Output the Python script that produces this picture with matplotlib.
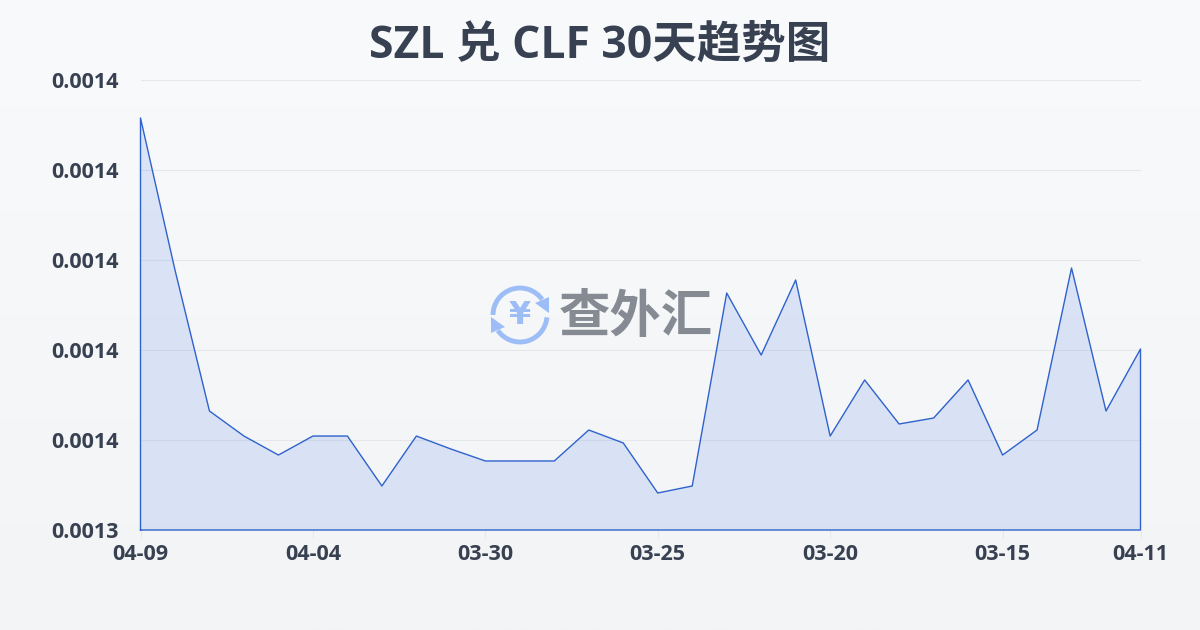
import numpy as np
import matplotlib
matplotlib.use("Agg")
import matplotlib.pyplot as plt
from matplotlib.patches import Arc, Polygon

plt.rcParams['font.family'] = ['Open Sans', 'Noto Sans CJK SC', 'DejaVu Sans']

# data
dates = ["04-09", "04-08", "04-07", "04-06", "04-05", "04-04", "04-03", "04-02", "04-01", "03-31",
         "03-30", "03-29", "03-28", "03-27", "03-26", "03-25", "03-24", "03-23", "03-22", "03-21",
         "03-20", "03-19", "03-18", "03-17", "03-16", "03-15", "03-14", "03-13", "03-12", "04-11"]
rates = [0.00139578, 0.00137889, 0.00136322, 0.00136044, 0.00135833, 0.00136044, 0.00136044, 0.00135489,
         0.00136044, 0.00135900, 0.00135767, 0.00135767, 0.00135767, 0.00136111, 0.00135967, 0.00135411,
         0.00135489, 0.00137633, 0.00136944, 0.00137778, 0.00136044, 0.00136667, 0.00136178, 0.00136244,
         0.00136667, 0.00135833, 0.00136111, 0.00137911, 0.00136322, 0.00137011]
xtick_pos = [0, 5, 10, 15, 20, 25, 29]
ytick_vals = [0.00135, 0.00136, 0.00137, 0.00138, 0.00139, 0.00140]
ytick_labels = ["0.0013", "0.0014", "0.0014", "0.0014", "0.0014", "0.0014"]

TEXT = "#374151"
LINE = "#2f62cc"

fig = plt.figure(figsize=(12, 6.3), dpi=100)

# background gradient
bg = fig.add_axes([0, 0, 1, 1], zorder=0)
bg.imshow(np.linspace(0, 1, 256).reshape(-1, 1), aspect="auto", extent=[0, 1200, 630, 0],
          cmap=matplotlib.colors.LinearSegmentedColormap.from_list("bg", ["#f9fafc", "#f3f4f6"]))
bg.axis("off")

ax = fig.add_axes([140.5 / 1200, 100 / 630, 1000 / 1200, 450 / 630], zorder=1)
ax.patch.set_alpha(0)
x = np.arange(len(rates))
ax.fill_between(x, rates, 0.00135, facecolor="#4a7fe8", alpha=0.16, linewidth=0, zorder=2)
ax.plot(np.r_[x[0], x, x[-1], x[0]], np.r_[0.00135, rates, 0.00135, 0.00135], color=LINE, lw=1.0,
        clip_on=False, zorder=3)

ax.set_xlim(0, len(rates) - 1)
ax.set_ylim(0.00135, 0.00140)
ax.set_xticks(xtick_pos)
ax.set_xticklabels([dates[i] for i in xtick_pos], fontsize=15.5, fontweight="bold", color=TEXT)
ax.tick_params(axis="x", length=6, width=0.8, color="#e5e7eb", pad=4)
ax.set_yticks(ytick_vals)
ax.set_yticklabels(ytick_labels, fontsize=15.5, fontweight="bold", color=TEXT)
ax.tick_params(axis="y", length=0, pad=16)
ax.grid(axis="y", color="#e5e7eb", lw=0.8)
ax.set_axisbelow(True)
for s in ax.spines.values():
    s.set_visible(False)

fig.text(0.5, 1 - 46 / 630, "SZL 兑 CLF 30天趋势图", ha="center", va="center",
         fontsize=32, fontweight="bold", color=TEXT)

# watermark, in pixel coordinates
wm = fig.add_axes([0, 0, 1, 1], zorder=2)
wm.set_xlim(0, 1200)
wm.set_ylim(630, 0)
wm.axis("off")
wm.patch.set_alpha(0)
ICON = "#9dbdf7"
wm.add_patch(Arc((520, 315), 54, 54, theta1=180, theta2=325, color=ICON, lw=3.5))
wm.add_patch(Arc((520, 315), 54, 54, theta1=5, theta2=145, color=ICON, lw=3.5))
wm.add_patch(Polygon([[549, 297], [549, 313], [535, 303]], color=ICON, lw=0))
wm.add_patch(Polygon([[491, 317], [491, 333], [505, 327]], color=ICON, lw=0))
wm.text(520, 315, "¥", ha="center", va="center", fontsize=23, fontweight="bold", color=ICON,
        family=['DejaVu Sans'])
wm.text(636, 319, "查外汇", ha="center", va="center", fontsize=37, fontweight="bold", color="#858a93")

fig.savefig("out.png", dpi=100)
